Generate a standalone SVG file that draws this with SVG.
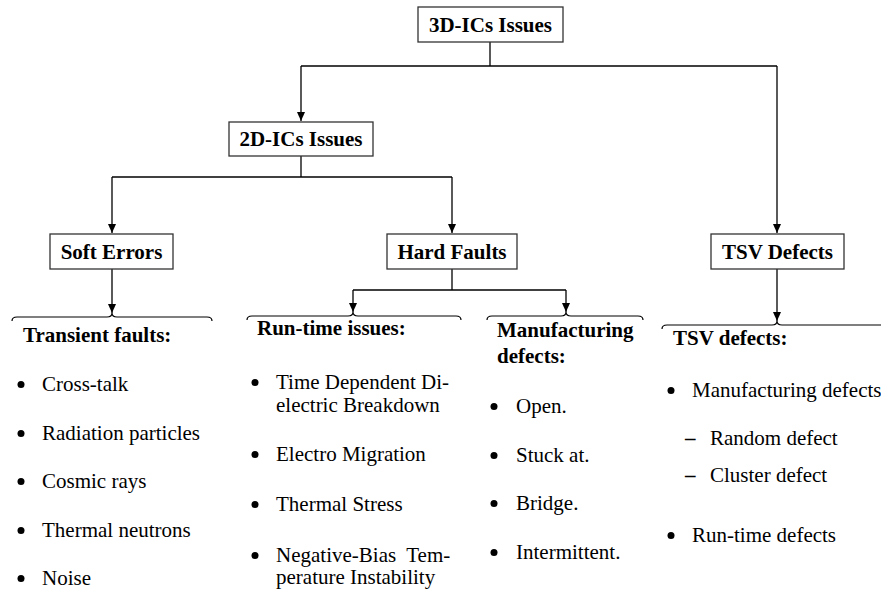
<svg xmlns="http://www.w3.org/2000/svg" width="881" height="592" viewBox="0 0 881 592">
<style>
.box{fill:#fff;stroke:#333;stroke-width:1.3}
text{font-family:'Liberation Serif','Times New Roman',serif;font-size:21px;fill:#000}
.lbl{font-weight:bold;text-anchor:middle}
.hd{font-weight:bold}
.ln{fill:none;stroke:#000;stroke-width:1.3}
.br{fill:none;stroke:#000;stroke-width:1.2}
.bul{fill:#000}
</style>
<defs>
<marker id="ah" markerWidth="10" markerHeight="10" refX="9" refY="5" orient="auto" markerUnits="userSpaceOnUse">
<path d="M0,1 L9,5 L0,9 Z" fill="#000"/>
</marker>
</defs>
<g id="connectors">
<path class="ln" d="M490,42 V66"/>
<path class="ln" d="M301,66 H777"/>
<path class="ln" d="M301,66 V121" marker-end="url(#ah)"/>
<path class="ln" d="M777,66 V233" marker-end="url(#ah)"/>
<path class="ln" d="M301,156 V177"/>
<path class="ln" d="M112,177 H452"/>
<path class="ln" d="M112,177 V233" marker-end="url(#ah)"/>
<path class="ln" d="M452,177 V233" marker-end="url(#ah)"/>
<path class="ln" d="M112,269 V313" marker-end="url(#ah)"/>
<path class="ln" d="M452,269 V290"/>
<path class="ln" d="M353,290 H566"/>
<path class="ln" d="M353,290 V312" marker-end="url(#ah)"/>
<path class="ln" d="M566,290 V312" marker-end="url(#ah)"/>
<path class="ln" d="M777,269 V321" marker-end="url(#ah)"/>
</g>
<g id="n3d"><rect class="box" x="418" y="7" width="145" height="35"/><text class="lbl" x="490.5" y="31.5">3D-ICs Issues</text></g>
<g id="n2d"><rect class="box" x="229" y="122" width="144" height="34"/><text class="lbl" x="301" y="146">2D-ICs Issues</text></g>
<g id="nsoft"><rect class="box" x="50" y="234" width="123" height="35"/><text class="lbl" x="111.5" y="258.5">Soft Errors</text></g>
<g id="nhard"><rect class="box" x="387" y="234" width="130" height="35"/><text class="lbl" x="452" y="258.5">Hard Faults</text></g>
<g id="ntsv"><rect class="box" x="711" y="234" width="133" height="35"/><text class="lbl" x="777.5" y="258.5">TSV Defects</text></g>
<g id="transient">
<path class="br" d="M12,321 Q12,317 17,317 H107 Q112,317 112,313 Q112,317 117,317 H207 Q212,317 212,321"/>
<text class="hd" x="23" y="342">Transient faults:</text>
<circle class="bul" cx="21" cy="384.5" r="3.5"/><text x="42" y="391">Cross-talk</text>
<circle class="bul" cx="21" cy="433.5" r="3.5"/><text x="42" y="440">Radiation particles</text>
<circle class="bul" cx="21" cy="481.5" r="3.5"/><text x="42" y="488">Cosmic rays</text>
<circle class="bul" cx="21" cy="530.5" r="3.5"/><text x="42" y="537">Thermal neutrons</text>
<circle class="bul" cx="21" cy="578.5" r="3.5"/><text x="42" y="585">Noise</text>
</g>
<g id="runtime">
<path class="br" d="M247,320 Q247,316 252,316 H348 Q353,316 353,312 Q353,316 358,316 H456 Q461,316 461,320"/>
<text class="hd" x="257" y="335">Run-time issues:</text>
<circle class="bul" cx="255" cy="382.5" r="3.5"/><text x="276" y="389">Time Dependent Di-</text>
<text x="276" y="412">electric Breakdown</text>
<circle class="bul" cx="255" cy="454.5" r="3.5"/><text x="276" y="461">Electro Migration</text>
<circle class="bul" cx="255" cy="504.5" r="3.5"/><text x="276" y="511">Thermal Stress</text>
<circle class="bul" cx="255" cy="555.5" r="3.5"/><text x="276" y="562" xml:space="preserve">Negative-Bias  Tem-</text>
<text x="276" y="584">perature Instability</text>
</g>
<g id="manufacturing">
<path class="br" d="M487,320 Q487,316 492,316 H561 Q566,316 566,312 Q566,316 571,316 H638 Q643,316 643,320"/>
<text class="hd" x="497" y="337">Manufacturing</text>
<text class="hd" x="497" y="363">defects:</text>
<circle class="bul" cx="494" cy="406.5" r="3.5"/><text x="516" y="413">Open.</text>
<circle class="bul" cx="494" cy="455.5" r="3.5"/><text x="516" y="462">Stuck at.</text>
<circle class="bul" cx="494" cy="503.5" r="3.5"/><text x="516" y="510">Bridge.</text>
<circle class="bul" cx="494" cy="552.5" r="3.5"/><text x="516" y="559">Intermittent.</text>
</g>
<g id="tsvlist">
<path class="br" d="M662,329 Q662,325 667,325 H772 Q777,325 777,321 Q777,325 782,325 H881"/>
<text class="hd" x="673" y="345">TSV defects:</text>
<circle class="bul" cx="671" cy="390.5" r="3.5"/><text x="692" y="397">Manufacturing defects</text>
<text class="hd" x="685" y="445">–</text><text x="710" y="445">Random defect</text>
<text class="hd" x="685" y="482">–</text><text x="710" y="482">Cluster defect</text>
<circle class="bul" cx="671" cy="535.5" r="3.5"/><text x="692" y="542">Run-time defects</text>
</g>
</svg>
